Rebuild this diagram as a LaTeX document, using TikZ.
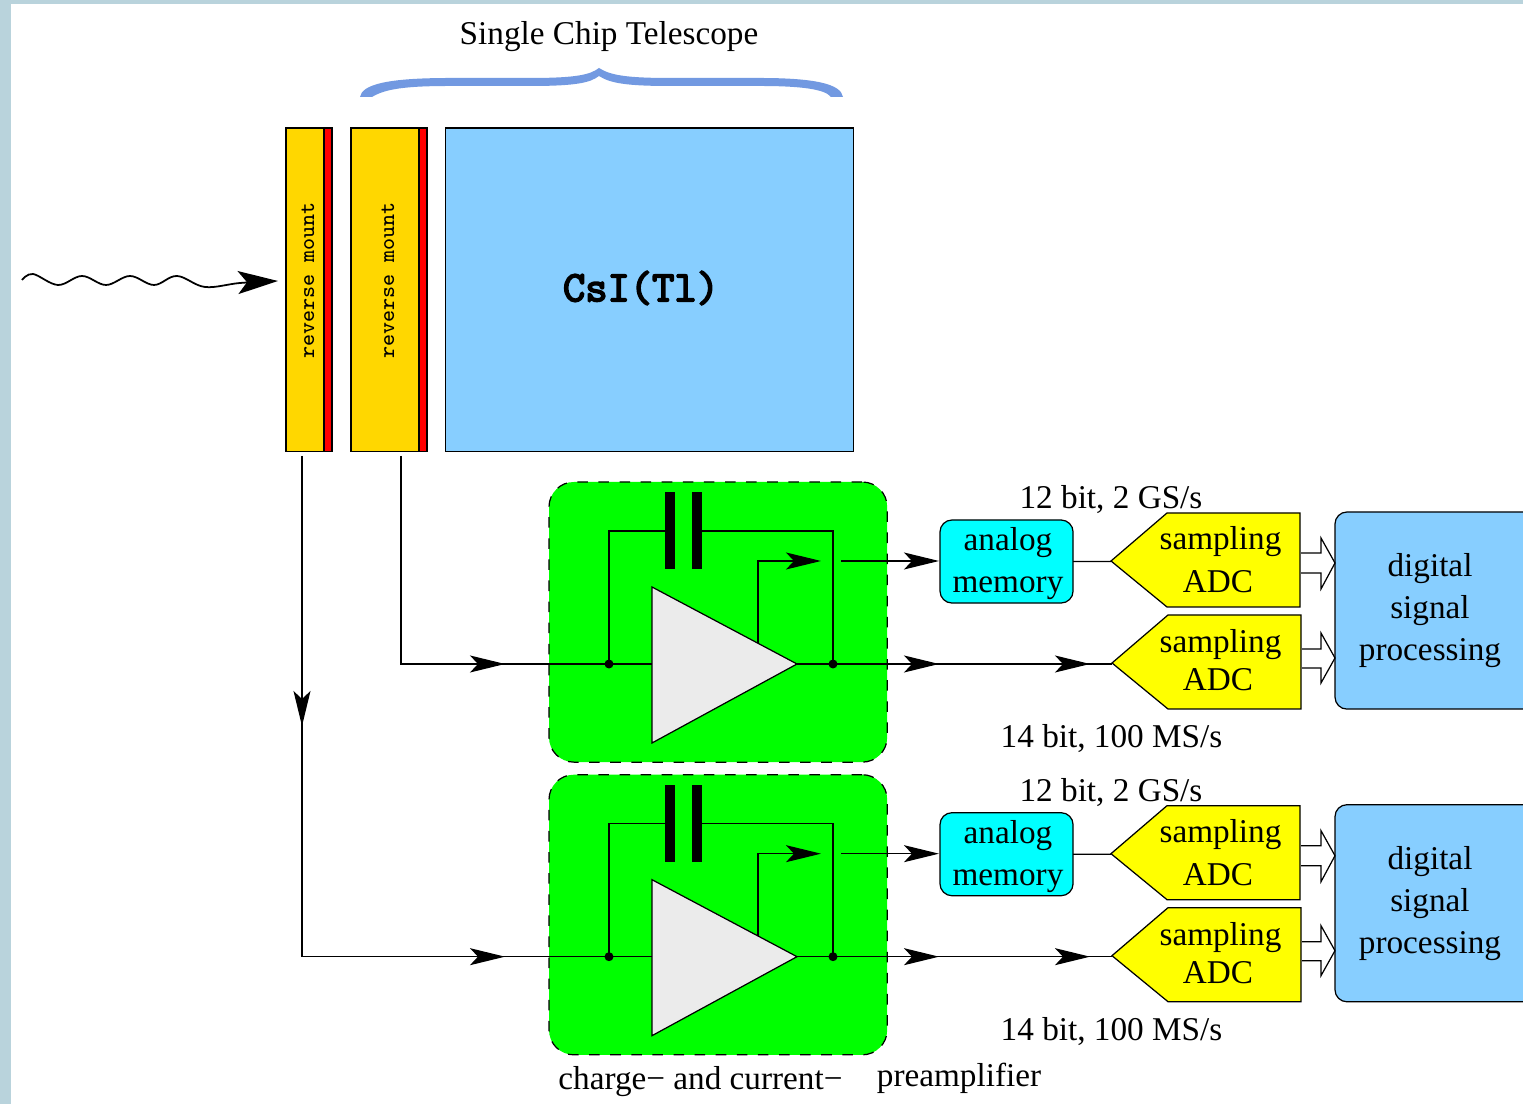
\documentclass[tikz,border=0pt]{standalone}
\usepackage{fontspec}
\setmainfont{Liberation Serif}
\newfontfamily\csifont[FakeBold=4]{Latin Modern Mono}
\usetikzlibrary{arrows.meta}
\definecolor{framebg}{HTML}{B9D3DC}
\definecolor{bracecol}{HTML}{7299E1}
\definecolor{crystal}{HTML}{87CEFF}
\definecolor{mountcol}{HTML}{FFD700}
\definecolor{ampgrey}{HTML}{EBEBEB}
\definecolor{ampgreen}{HTML}{00FF00}
\definecolor{memcyan}{HTML}{00FFFF}
\definecolor{adcyellow}{HTML}{FFFF00}
\definecolor{backred}{HTML}{FF0000}
\tikzset{
    wire/.style={line width=0.35pt},
    sig/.style={wire,-{Stealth[length=0.35cm,width=0.17cm,inset=0.08cm]}},
    onward/.style={shorten <=-0.1cm},
    txt/.style={font=\fontsize{9.45pt}{12pt}\selectfont,inner sep=0pt,anchor=base},
    mounttxt/.style={font=\ttfamily\fontsize{6.45pt}{7pt}\selectfont,rotate=90,inner sep=0pt},
    blockbox/.style={draw,line width=0.35pt,inner sep=0pt,outer sep=0pt,anchor=north west},
    adcbox/.style={draw,fill=adcyellow,line width=0.35pt},
    dotpin/.style={circle,fill,inner sep=0pt,minimum size=0.09cm},
    openarrow/.style={draw,fill=white,line width=0.35pt}
}
\begin{document}
\begin{tikzpicture}[x=0.01cm,y=-0.01cm]
    \clip (0,0) rectangle (1523,1104);
    \fill[framebg] (0,0) rectangle (1523,1104);
    \fill[white] (11,4) rectangle (1523,1104);

    % title and brace
    \node[txt] (title) at (609,45) {Single Chip Telescope};
    \fill[bracecol] (360,97) .. controls (362,85) and (385,78) .. (450,78)
        -- (530,78) .. controls (575,78) and (590,75) .. (599,68)
        .. controls (610,75) and (625,78) .. (670,78) -- (760,78)
        .. controls (815,78) and (841,84) .. (843,97) -- (831,97)
        .. controls (825,89) and (800,86) .. (760,86) -- (670,86)
        .. controls (625,86) and (610,83) .. (599,76)
        .. controls (590,83) and (575,86) .. (530,86) -- (450,86)
        .. controls (405,86) and (385,89) .. (372,97) -- cycle;

    % detectors
    \node[blockbox,fill=mountcol,minimum width=0.46cm,minimum height=3.23cm] (det1) at (286,128) {};
    \node[blockbox,fill=backred,minimum width=0.08cm,minimum height=3.23cm] (back1) at (324,128) {};
    \node[blockbox,fill=mountcol,minimum width=0.76cm,minimum height=3.23cm] (det2) at (351,128) {};
    \node[blockbox,fill=backred,minimum width=0.08cm,minimum height=3.23cm] (back2) at (419,128) {};
    \node[blockbox,fill=crystal,minimum width=4.075cm,minimum height=3.23cm] (csi) at (445.5,128) {};
    \node[mounttxt] (mount1) at (308,280.5) {reverse mount};
    \node[mounttxt] (mount2) at (388,280.5) {reverse mount};
    \node[font=\csifont\fontsize{12.3pt}{13pt}\selectfont,inner sep=0pt] (csilabel) at (641,288) {CsI(Tl)};

    % incoming wave
    \coordinate (wavestart) at (22,280);
    \draw[line width=0.5pt,-{Stealth[length=0.4cm,width=0.23cm,inset=0.09cm]}] plot[smooth,tension=0.6] coordinates
        {(wavestart) (33,274) (58,285) (82,276) (106,285) (130,276) (154,285) (177,276) (205,287) (240,283) (278,281)};

    % amplifier channels
    \foreach \ch/\dy in {a/0,b/292.7}{
        \node[blockbox,dashed,fill=ampgreen,rounded corners=0.25cm,minimum width=3.38cm,minimum height=2.8cm] (amp\ch) at (549,482+\dy) {};
        \coordinate (in\ch) at (505,664+\dy);
        \coordinate (gate\ch) at (609,664+\dy);
        \coordinate (drain\ch) at (833,664+\dy);
        \coordinate (tip\ch) at (797,664+\dy);
        \coordinate (plus\ch) at (652,664+\dy);
        \coordinate (tap\ch) at (758,643+\dy);
        \coordinate (capl\ch) at (670,531+\dy);
        \coordinate (capr\ch) at (696,531+\dy);
        \coordinate (out\ch) at (939,664+\dy);
        \coordinate (adcin\ch) at (1090,664+\dy);
        \coordinate (adcpin\ch) at (1112,664+\dy);
        \coordinate (gap\ch) at (821,561+\dy);
        \coordinate (gapout\ch) at (841,561+\dy);
        % feedback
        \draw[wire] (gate\ch) |- (capl\ch);
        \draw[wire] (capr\ch) -| (drain\ch);
        \draw[wire] (plus\ch) -- (gate\ch);
        \fill (665,492+\dy) rectangle (675,569+\dy);
        \fill (692,492+\dy) rectangle (702,569+\dy);
        \draw[wire,fill=ampgrey] (652,587+\dy) -- (797,664+\dy) -- (652,743+\dy) -- cycle;
        \draw[sig] (tap\ch) |- (gap\ch);
        \node[dotpin] (gdot\ch) at (gate\ch) {};
        \node[dotpin] (ddot\ch) at (drain\ch) {};
        \draw[wire,onward] (in\ch) -- (gate\ch);
        \draw[sig] (tip\ch) -- (out\ch);
        \draw[sig,onward] (out\ch) -- (adcin\ch);
        \draw[wire,onward] (adcin\ch) -- (adcpin\ch);

        % memory and ADCs
        \node[blockbox,fill=memcyan,rounded corners=0.12cm,minimum width=1.33cm,minimum height=0.83cm] (mem\ch) at (940,520+\dy) {};
        \node[txt] (memtop\ch) at (1008,551+\dy) {analog};
        \node[txt] (membot\ch) at (1008,593+\dy) {memory};
        \draw[sig] (gapout\ch) -- (939,561+\dy);
        \draw[adcbox] (1111,561+\dy) -- (1167,513+\dy) -- (1300,513+\dy) -- (1300,607+\dy) -- (1167,607+\dy) -- cycle;
        \draw[adcbox] (1112,663+\dy) -- (1168,615+\dy) -- (1301,615+\dy) -- (1301,709+\dy) -- (1168,709+\dy) -- cycle;
        \draw[wire] (mem\ch.east) -- (1111,561.5+\dy);
        \node[txt] (samp1\ch) at (1220.5,550+\dy) {sampling};
        \node[txt] (adc1\ch) at (1218,593+\dy) {ADC};
        \node[txt] (samp2\ch) at (1220.5,653+\dy) {sampling};
        \node[txt] (adc2\ch) at (1218,691+\dy) {ADC};

        % signal processing
        \node[blockbox,fill=crystal,rounded corners=0.12cm,minimum width=2.1cm,minimum height=1.97cm] (dsp\ch) at (1335,512+\dy) {};
        \node[txt] (dsp1\ch) at (1430,577+\dy) {digital};
        \node[txt] (dsp2\ch) at (1430,619+\dy) {signal};
        \node[txt] (dsp3\ch) at (1430,661+\dy) {processing};
        \draw[openarrow] (1301,553+\dy) -- (1321,553+\dy) -- (1321,538+\dy) -- (1335,563+\dy) -- (1321,589+\dy) -- (1321,573+\dy) -- (1301,573+\dy);
        \draw[openarrow] (1302,649+\dy) -- (1321,649+\dy) -- (1321,633+\dy) -- (1335,658+\dy) -- (1321,683+\dy) -- (1321,668+\dy) -- (1302,668+\dy);

        % rates
        \node[txt] (fast\ch) at (1111,509+\dy) {12 bit, 2 GS/s};
        \node[txt] (slow\ch) at (1111.5,748+\dy) {14 bit, 100 MS/s};
    }

    % detector read out
    \coordinate (ro1) at (302,456);
    \coordinate (ro2) at (401,456);
    \coordinate (romid) at (302,726);
    \draw[sig] (ro2) |- (ina);
    \draw[sig] (ro1) -- (romid);
    \draw[sig,onward] (romid) |- (inb);

    \node[txt] (caption1) at (700.5,1090) {charge− and current−};
    \node[txt] (caption2) at (959,1087) {preamplifier};
\end{tikzpicture}
\end{document}
